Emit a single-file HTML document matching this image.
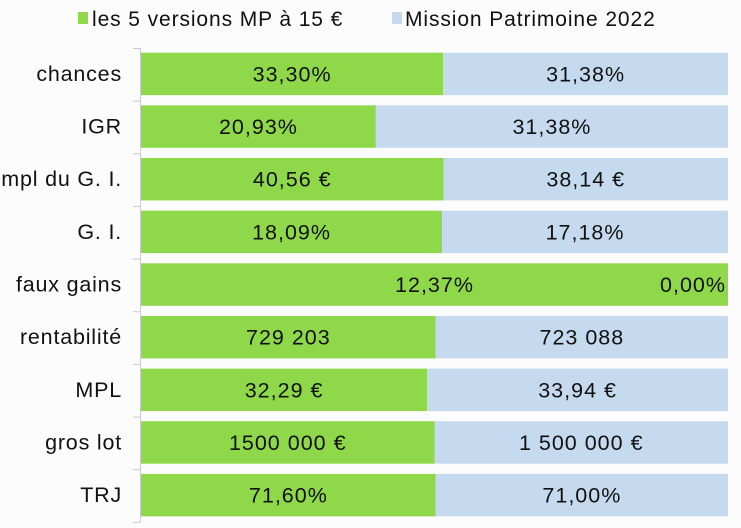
<!DOCTYPE html>
<html><head><meta charset="utf-8"><style>
body{margin:0;background:#fdfcfc;}
svg{display:block;font-family:"Liberation Sans",sans-serif;}
</style></head><body>
<svg id="chart" width="741" height="528" viewBox="0 0 741 528">
<rect width="741" height="528" fill="#fdfcfc"/>
<g>
<g>
<rect x="78" y="12" width="10" height="12" fill="#8fd849"/>
<text x="92" y="26" font-size="21" letter-spacing="0.9" fill="#111">les 5 versions MP à 15 €</text>
</g>
<g>
<rect x="392" y="12" width="10" height="12" fill="#c5d9ef"/>
<text x="405" y="26" font-size="21" letter-spacing="0.9" fill="#111">Mission Patrimoine 2022</text>
</g>
</g>
<line x1="140.5" y1="48" x2="140.5" y2="522" stroke="#ccc"/>
<g id="bars"></g>
</svg>
<script>
const categories=["chances","IGR","mpl du G. I.","G. I.","faux gains","rentabilité","MPL","gros lot","TRJ"];
const seriesA=[33.30,20.93,40.56,18.09,12.37,729203,32.29,1500000,71.60];
const seriesB=[31.38,31.38,38.14,17.18,0.00,723088,33.94,1500000,71.00];
const labelsA=["33,30%","20,93%","40,56 €","18,09%","12,37%","729 203","32,29 €","1500 000 €","71,60%"];
const labelsB=["31,38%","31,38%","38,14 €","17,18%","0,00%","723 088","33,94 €","1 500 000 €","71,00%"];
const NS="http://www.w3.org/2000/svg";
const g=document.getElementById('bars');
const x0=141,x1=728,top0=48,band=52.65;
const xs=f=>x0+f*(x1-x0);
const yb=i=>top0+i*band;
function mk(t,a){const e=document.createElementNS(NS,t);for(const k in a)e.setAttribute(k,a[k]);g.appendChild(e);return e;}
categories.forEach((c,i)=>{
 const y=yb(i),by=y+4.7,bh=band-10.2;
 const tot=seriesA[i]+seriesB[i];
 const f=tot?seriesA[i]/tot:0;
 const tk=mk('line',{x1:133,x2:140.5,y1:y+0.5,y2:y+0.5,stroke:'#ccc'});
 
 
 if(i===categories.length-1){const t2=mk('line',{x1:133,x2:140.5,y1:yb(i+1)+0.5,y2:yb(i+1)+0.5,stroke:'#ccc'});
 
 }
 const cl=mk('text',{x:122,y:by+bh/2+7,'font-size':21.5,'letter-spacing':0.8,'text-anchor':'end',fill:'#111'});cl.textContent=c;
 
 
 const ra=mk('rect',{x:x0,y:by,width:xs(f)-x0,height:bh,fill:'#8fd849'});
 
 
 const rb=mk('rect',{x:xs(f),y:by,width:x1-xs(f),height:bh,fill:'#c5d9ef'});
 
 
 const ta=mk('text',{x:(x0+xs(f))/2,y:by+bh/2+7.5,'font-size':21.5,'letter-spacing':1,'text-anchor':'middle',fill:'#111'});ta.textContent=labelsA[i];
 
 
 const cx=f>=0.999?(x1-2):(xs(f)+x1)/2;
 const tb=mk('text',{x:cx,y:by+bh/2+7.5,'font-size':21.5,'letter-spacing':1,'text-anchor':f>=0.999?'end':'middle',fill:'#111'});tb.textContent=labelsB[i];
 
 
});
</script>
</body></html>
